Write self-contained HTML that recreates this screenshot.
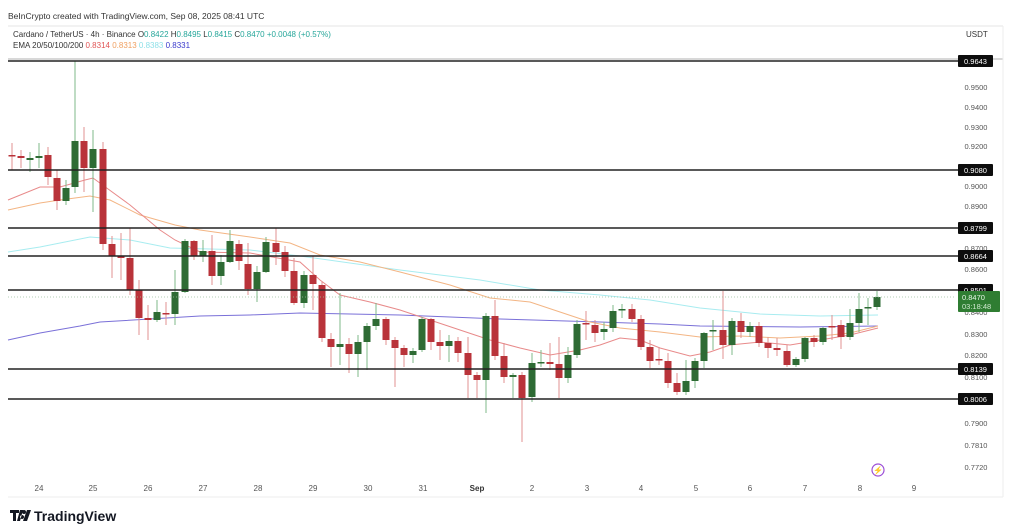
<!DOCTYPE html>
<html><head><meta charset="utf-8"><style>
body{margin:0;background:#fff;width:1024px;height:529px;overflow:hidden;font-family:"Liberation Sans",sans-serif}
svg{position:absolute;left:0;top:0}
</style></head><body>
<svg id="s" width="1024" height="529" xmlns="http://www.w3.org/2000/svg" font-family="Liberation Sans, sans-serif">
<rect x="0" y="0" width="1024" height="529" fill="#fff"/>
<text x="8" y="19" font-size="8.5" fill="#333">BeInCrypto created with TradingView.com, Sep 08, 2025 08:41 UTC</text>
<line x1="8" y1="26" x2="1003" y2="26" stroke="#e4e4e4"/>
<line x1="8" y1="59" x2="1003" y2="59" stroke="#999" stroke-width="0.7"/>
<line x1="8" y1="497" x2="1003" y2="497" stroke="#eee"/>
<line x1="1003" y1="26" x2="1003" y2="497" stroke="#eee"/>
<text x="13" y="37" font-size="8" fill="#333">Cardano / TetherUS · 4h · Binance <tspan>O</tspan><tspan fill="#26a69a">0.8422</tspan> H<tspan fill="#26a69a">0.8495</tspan> L<tspan fill="#26a69a">0.8415</tspan> C<tspan fill="#26a69a">0.8470</tspan> <tspan fill="#26a69a">+0.0048 (+0.57%)</tspan></text>
<text x="13" y="48" font-size="8" fill="#333">EMA 20/50/100/200 <tspan fill="#e05555">0.8314</tspan> <tspan fill="#f0a060">0.8313</tspan> <tspan fill="#8fe0e8">0.8383</tspan> <tspan fill="#3a3acc">0.8331</tspan></text>
<text x="966" y="37" font-size="8" fill="#333">USDT</text>
<g id="g"></g>
<g font-size="8" fill="#555" text-anchor="middle">
<text x="39" y="491">24</text><text x="93" y="491">25</text><text x="148" y="491">26</text><text x="203" y="491">27</text><text x="258" y="491">28</text><text x="313" y="491">29</text><text x="368" y="491">30</text><text x="423" y="491">31</text><text x="477" y="491" font-weight="bold" fill="#333">Sep</text><text x="532" y="491">2</text><text x="587" y="491">3</text><text x="641" y="491">4</text><text x="696" y="491">5</text><text x="750" y="491">6</text><text x="805" y="491">7</text><text x="860" y="491">8</text><text x="914" y="491">9</text>
</g>
<circle cx="878" cy="470" r="6" fill="none" stroke="#9c4fd6" stroke-width="1.2"/>
<text x="878" y="473" font-size="8" fill="#9c4fd6" text-anchor="middle">⚡</text>
<g transform="translate(10,509)"><path d="M0 1h9v3h-3v8h-3v-8h-3z M10 1h3l-3 11h-3z M12 6a2 2 0 1 0 0.1 0z" fill="#131722"/><circle cx="14" cy="3" r="2" fill="#131722"/><path d="M17 1h4l-4 11h-4z" fill="#131722"/></g>
<text x="34" y="521" font-size="14" font-weight="bold" fill="#131722">TradingView</text>
</svg>
<script>
var g=document.getElementById('g'),h='';
// price ticks
var ticks=[[0.96,63],[0.95,87],[0.94,107],[0.93,127],[0.92,146],[0.91,168],[0.90,186],[0.89,206],[0.87,248],[0.86,269],[0.84,312],[0.83,334],[0.82,355],[0.81,377],[0.79,423],[0.781,445],[0.772,467]];
ticks.forEach(function(t){h+='<text x="976" y="'+(t[1]+3)+'" font-size="7.5" fill="#555" text-anchor="middle">'+t[0].toFixed(4)+'</text>';});
// EMAs
function pl(p,c,w){h+='<polyline fill="none" stroke="'+c+'" stroke-width="'+w+'" points="'+p+'"/>';}
pl('8,252 40,247 90,237 130,240 170,248 250,250 300,256 400,270 480,280 540,290 600,295 650,300 700,308 760,314 820,316 878,315','#a8ecf0',1);
pl('8,340 40,333 80,326 100,322 150,319 200,316 250,315 300,313 400,315 500,319 600,322 660,324 700,326 800,327 878,326','#7a70d8',1);
pl('8,210 40,203 60,200 90,196 110,200 140,215 175,225 200,230 250,237 290,243 320,255 360,262 400,272 450,285 490,298 530,302 560,312 590,322 620,328 660,332 700,337 740,336 780,338 820,336 850,333 878,326','#f3b584',1);
pl('8,200 40,187 60,187 85,180 93,178 130,205 160,230 175,240 200,252 250,253 300,262 320,280 340,295 370,302 400,310 430,320 460,330 490,340 520,348 550,355 580,350 600,345 620,338 640,340 660,348 690,356 710,352 730,345 760,342 790,345 820,340 850,335 878,328','#e88a8a',1);
// candles: x,o,c,hi,lo (pixel y)
var C=[[12,155,156,143,170],[21,156,158,150,168],[30,160,158,152,172],[39,158,156,143,168],[48,155,177,147,185],[57,178,201,170,210],[66,201,188,180,205],[75,187,141,61,193],[84,141,168,127,192],[93,168,149,130,212],[103,149,244,142,250],[112,244,256,236,278],[121,256,258,233,280],[130,258,290,228,295],[139,290,318,280,335],[148,318,320,305,340],[157,320,312,300,322],[166,313,314,302,325],[175,314,292,270,325],[185,292,241,239,293],[194,241,256,240,260],[203,256,251,240,262],[212,251,276,235,285],[221,276,262,255,285],[230,262,241,230,263],[239,244,261,240,270],[248,264,289,243,295],[257,289,272,266,302],[266,272,242,237,273],[276,243,252,228,265],[285,252,271,246,277],[294,271,303,258,305],[304,303,275,271,308],[313,275,284,256,310],
[322,285,338,282,342],[331,339,347,333,367],[340,347,344,293,365],[349,344,354,338,373],[358,354,342,335,377],[367,342,326,323,370],[376,326,319,303,330],[386,319,340,317,345],[395,340,348,337,387],[404,348,355,345,367],[413,355,351,348,363],[422,350,319,317,352],[431,319,342,318,350],[440,342,346,330,360],[449,346,341,335,362],[458,341,353,337,362],[468,353,375,337,398],[477,375,380,372,398],[486,380,316,313,413],[495,316,356,300,360],[504,356,377,343,383],[513,377,375,373,398],[522,375,398,372,442],[532,397,363,353,402],[541,363,362,350,367],[550,362,364,343,370],[559,364,378,337,398],[568,378,355,347,383],[577,355,324,320,358],[586,323,324,311,340],[595,325,333,320,342],[604,332,329,322,340],[613,328,311,305,332],[622,310,309,304,318],[632,309,319,304,322],[641,319,347,315,350],[650,347,361,340,368],[659,359,360,347,365],[668,361,383,353,388],[677,383,392,373,395],[686,392,381,360,395],[695,381,361,358,388],[704,361,333,332,368],[713,331,330,320,350],[723,330,345,291,359],[732,345,321,318,355],[741,321,332,313,338],[750,332,326,322,337],[759,326,343,322,347],[768,343,348,337,358],[777,348,350,338,356],[787,351,365,345,367],[796,365,359,357,367],[805,359,338,337,362],[814,338,342,335,347],[823,342,328,327,345],[832,326,327,315,340],[841,325,337,320,349],[850,337,323,309,340],[859,323,309,293,332],[868,308,307,298,325],[877,307,297,291,310]];
C.forEach(function(c){var up=c[2]<c[1],col=up?'#2e6b34':'#b9333a',wc=up?'#7fb88a':'#e09090';
var t=Math.min(c[1],c[2]),b=Math.max(c[1],c[2]);if(b-t<1.5)b=t+1.5;
h+='<line x1="'+c[0]+'" y1="'+c[3]+'" x2="'+c[0]+'" y2="'+c[4]+'" stroke="'+wc+'" stroke-width="1"/>';
h+='<rect x="'+(c[0]-3.5)+'" y="'+t+'" width="7" height="'+(b-t)+'" fill="'+col+'"/>';});
// current price line
h+='<line x1="8" y1="297" x2="955" y2="297" stroke="#9ac09c" stroke-width="0.8" stroke-dasharray="1,2"/>';
// horizontal levels
[[61,'0.9643'],[170,'0.9080'],[228,'0.8799'],[256,'0.8664'],[290,'0.8501'],[369,'0.8139'],[399,'0.8006']].forEach(function(l){
h+='<line x1="8" y1="'+l[0]+'" x2="958" y2="'+l[0]+'" stroke="#222" stroke-width="1.6"/>';
h+='<rect x="958" y="'+(l[0]-6)+'" width="35" height="12" rx="1" fill="#0d0d0d"/>';
h+='<text x="975.5" y="'+(l[0]+3)+'" font-size="7.5" fill="#fff" text-anchor="middle">'+l[1]+'</text>';});
h+='<rect x="958" y="291" width="42" height="21" rx="1" fill="#2f7d32"/>';
h+='<text x="962" y="300" font-size="7.5" fill="#e6f5e6">0.8470</text><text x="962" y="309" font-size="7.5" fill="#cfe8cf">03:18:48</text>';
g.innerHTML=h;
</script>
</body></html>
